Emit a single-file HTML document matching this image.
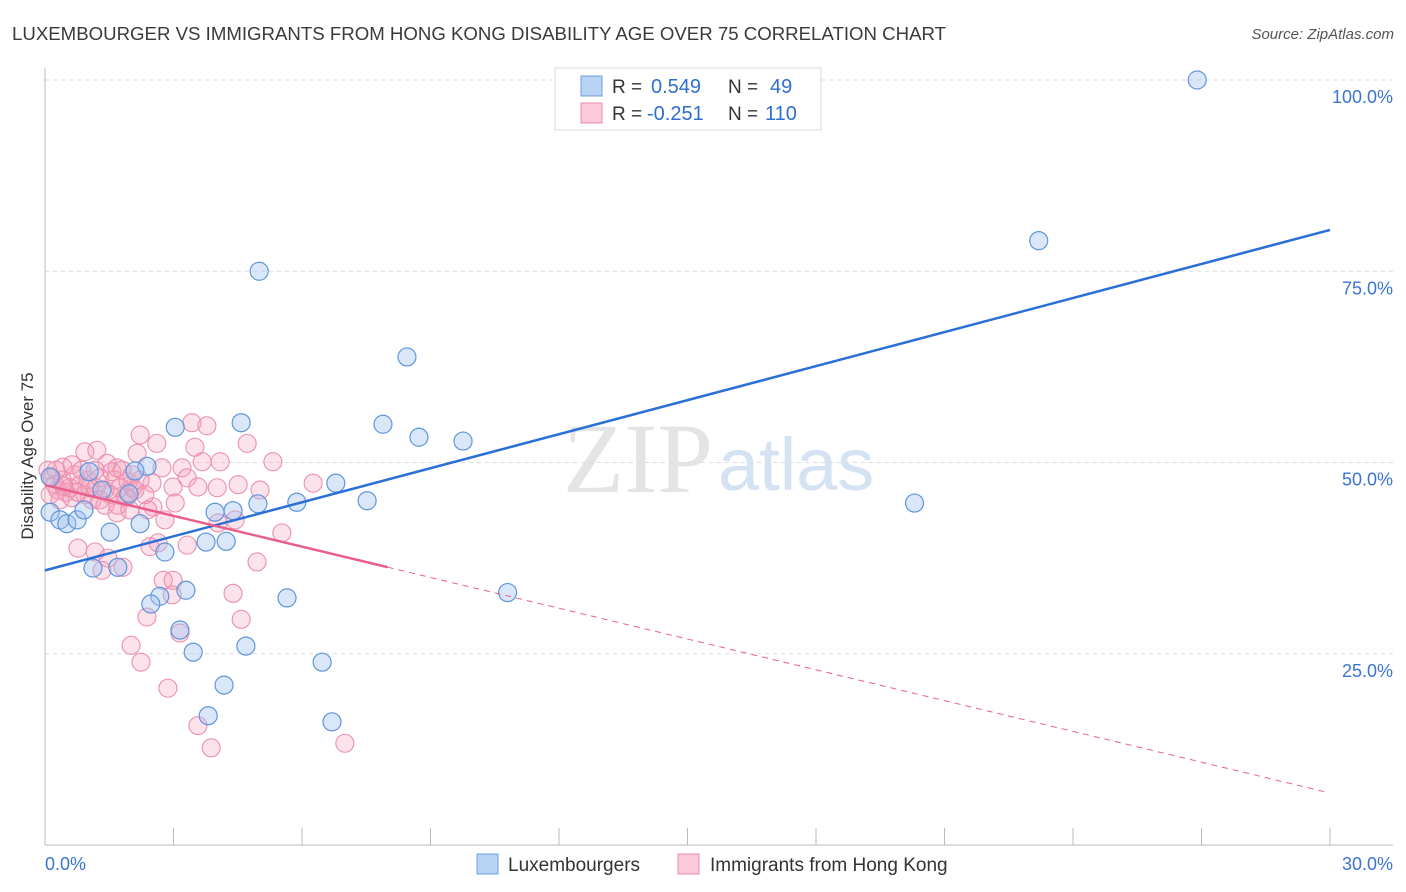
<!DOCTYPE html>
<html><head><meta charset="utf-8"><style>
body{margin:0;background:#fff;font-family:"Liberation Sans",sans-serif;}
#wrap{position:relative;width:1406px;height:892px;overflow:hidden;}
</style></head><body>
<div id="wrap">
<svg id="svg" width="1406" height="892" xmlns="http://www.w3.org/2000/svg">
<text x="12" y="40" font-size="18" textLength="934" lengthAdjust="spacingAndGlyphs" fill="#3a3a3a">LUXEMBOURGER VS IMMIGRANTS FROM HONG KONG DISABILITY AGE OVER 75 CORRELATION CHART</text>
<text x="1394" y="39" font-size="15" fill="#555" font-style="italic" text-anchor="end">Source: ZipAtlas.com</text>
<text x="33" y="456" font-size="17" fill="#333" text-anchor="middle" transform="rotate(-90 33 456)">Disability Age Over 75</text>
<g><text x="713" y="492" font-size="100" font-family="Liberation Serif,serif" fill="#e4e4e4" text-anchor="end">ZIP</text><text x="718" y="490" font-size="74" fill="#d4e2f4">atlas</text></g>
<g id="grid"></g><g id="axes"></g><g id="pts"></g><g id="lines"></g>
<g>
<rect x="555" y="68" width="266" height="62" fill="#fff" stroke="#d8d8d8"/>
<rect x="581" y="76" width="21" height="20" fill="#b9d3f5" stroke="#6a9fe0"/>
<rect x="581" y="103" width="21" height="20" fill="#fbc9d8" stroke="#eb8aa8"/>
<text x="612" y="93" font-size="19" fill="#333">R = </text><text x="651" y="93" font-size="20" fill="#2f6fd0">0.549</text>
<text x="728" y="93" font-size="19" fill="#333">N = </text><text x="770" y="93" font-size="20" fill="#2f6fd0">49</text>
<text x="612" y="120" font-size="19" fill="#333">R = </text><text x="647" y="120" font-size="20" fill="#2f6fd0">-0.251</text>
<text x="728" y="120" font-size="19" fill="#333">N = </text><text x="765" y="120" font-size="20" fill="#2f6fd0">110</text>
</g>
<g>
<rect x="477" y="854" width="21" height="20" fill="#b9d3f5" stroke="#6a9fe0"/>
<text x="508" y="871" font-size="19" fill="#333">Luxembourgers</text>
<rect x="678" y="854" width="21" height="20" fill="#fbc9d8" stroke="#eb8aa8"/>
<text x="710" y="871" font-size="19" fill="#333">Immigrants from Hong Kong</text>
</g>
</svg>
<script>
const yTicks=[25,50,75,100];
const yTickLabels=["25.0%","50.0%","75.0%","100.0%"];
const xTicks=[0,3,6,9,12,15,18,21,24,27,30];
const xEndLabels=["0.0%","30.0%"];
const luxX=[26.9,23.2,5.0,8.45,7.89,4.58,3.04,8.73,9.76,2.38,1.03,6.79,5.88,7.52,4.97,20.3,1.96,1.33,3.97,4.39,0.12,0.35,0.51,0.75,0.91,2.22,1.52,3.76,4.23,2.80,1.12,1.70,3.29,2.68,2.47,3.15,3.46,4.69,5.65,4.18,3.81,6.47,6.70,10.8,0.12,2.1];
const luxY=[100,79.0,75.0,63.8,55.0,55.2,54.6,53.3,52.8,49.5,48.8,47.3,44.8,45.0,44.6,44.7,45.9,46.4,43.5,43.7,43.5,42.5,42.0,42.5,43.8,42.0,40.9,39.6,39.7,38.3,36.2,36.3,33.3,32.5,31.5,28.1,25.2,26.0,32.3,20.9,16.9,23.9,16.1,33.0,48.1,48.9];
const hkX=[3.43,3.78,2.22,2.61,3.50,4.72,0.93,1.21,2.15,3.67,4.09,5.32,1.45,1.68,0.42,0.63,2.73,3.20,3.32,2.50,2.99,3.57,4.02,4.51,5.02,6.26,2.05,1.91,3.04,2.52,2.40,1.68,2.80,4.04,4.44,5.53,3.32,2.45,2.64,0.77,1.17,1.47,1.33,1.82,4.95,2.76,2.99,2.97,4.39,2.38,4.58,3.15,2.01,2.24,2.87,3.57,3.88,7.00,0.07,0.16,0.23,0.30,0.12,0.40,0.49,0.58,0.70,0.82,0.93,1.00,1.10,1.19,1.28,1.40,1.52,1.63,1.75,1.87,1.94,2.03,0.35,0.63,0.86,1.17,1.40,1.70,1.56,0.26,0.44,0.77,1.05,1.28,1.80,2.10,2.22,2.33,1.98];
const hkY=[55.2,54.8,53.6,52.5,52.0,52.5,51.4,51.6,51.2,50.1,50.1,50.1,49.9,49.3,49.4,49.7,49.3,49.3,48.0,47.3,46.8,46.8,46.7,47.1,46.4,47.3,46.7,45.5,44.7,44.2,43.8,43.4,42.5,42.1,42.5,40.8,39.2,39.0,39.5,38.8,38.3,37.5,35.9,36.3,37.0,34.6,34.6,32.7,32.9,29.8,29.5,27.7,26.1,23.9,20.5,15.6,12.7,13.3,49.0,48.0,47.1,46.4,45.8,47.7,46.1,46.7,48.4,47.1,45.8,47.7,45.1,46.7,48.0,46.4,45.8,47.7,46.7,45.5,47.5,48.4,45.1,45.4,49.0,49.0,44.4,44.4,48.8,49.0,46.9,46.1,46.7,45.1,49.0,46.4,47.7,45.8,43.8];
const luxTrend=[35.9,80.4];
const hkTrend=[47.05,6.8];
const hkSolidEnd=8;
const NS="http://www.w3.org/2000/svg";
const X0=45,X1=1330,Y0=845,Y100=80;
const sx=v=>X0+(X1-X0)*v/30, sy=v=>Y0-(Y0-Y100)*v/100;
function mk(tag,attrs,parent){const e=document.createElementNS(NS,tag);for(const k in attrs)e.setAttribute(k,attrs[k]);document.getElementById(parent).appendChild(e);return e;}
yTicks.forEach((t,i)=>{
 const g=mk('line',{x1:45,x2:1393,y1:sy(t),y2:sy(t),stroke:'#ddd','stroke-dasharray':'4 4'},'grid');
 
 
 const l=mk('text',{x:1393,y:sy(t)+23,'font-size':18,fill:'#3b74d1','text-anchor':'end'},'grid');
 l.textContent=yTickLabels[i];
 
 
});
const ax=mk('line',{x1:45,x2:45,y1:68,y2:845,stroke:'#bbb'},'axes');


const bx=mk('line',{x1:45,x2:1393,y1:845,y2:845,stroke:'#bbb'},'axes');


xTicks.forEach(t=>{const tk=mk('line',{x1:sx(t),x2:sx(t),y1:828,y2:845,stroke:'#bbb'},'axes');
 
 });
const xl0=mk('text',{x:45,y:870,'font-size':18,fill:'#3b74d1'},'axes');xl0.textContent=xEndLabels[0];


const xl1=mk('text',{x:1393,y:870,'font-size':18,fill:'#3b74d1','text-anchor':'end'},'axes');xl1.textContent=xEndLabels[1];


hkX.forEach((v,i)=>{const c=mk('circle',{cx:sx(v),cy:sy(hkY[i]),r:9,fill:'rgba(245,160,188,0.3)',stroke:'#ec90ad','stroke-width':1.1},'pts');
 
 });
luxX.forEach((v,i)=>{const c=mk('circle',{cx:sx(v),cy:sy(luxY[i]),r:9,fill:'rgba(160,196,240,0.4)',stroke:'#5f95dc','stroke-width':1.2},'pts');
 
 });
const lt=mk('line',{x1:sx(0),y1:sy(luxTrend[0]),x2:sx(30),y2:sy(luxTrend[1]),stroke:'#2a6fd6','stroke-width':2.5},'lines');


const hy=x=>hkTrend[0]+(hkTrend[1]-hkTrend[0])*x/30;
const ht=mk('line',{x1:sx(0),y1:sy(hy(0)),x2:sx(hkSolidEnd),y2:sy(hy(hkSolidEnd)),stroke:'#e8608a','stroke-width':2.5},'lines');


const hd=mk('line',{x1:sx(hkSolidEnd),y1:sy(hy(hkSolidEnd)),x2:sx(29.9),y2:sy(hy(29.9)),stroke:'#e8608a','stroke-width':1,'stroke-dasharray':'6 5'},'lines');


</script>
</div></body></html>
